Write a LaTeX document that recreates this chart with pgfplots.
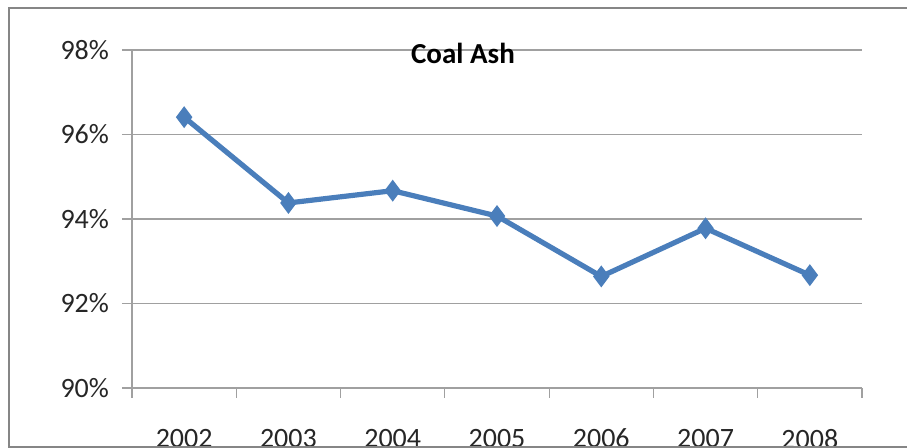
\documentclass[border=0pt]{standalone}
\usepackage{pgfplots}
\pgfplotsset{compat=1.18}
\usepackage{fontspec}
\setmainfont{Carlito}
\definecolor{lineblue}{HTML}{4A7EBB}
\definecolor{gridgray}{HTML}{A0A0A0}
\definecolor{framegray}{HTML}{868686}
\begin{document}
\begin{tikzpicture}
\path[use as bounding box] (-66pt,-30pt) rectangle (387.5pt,194pt);
\clip (-66pt,-30pt) rectangle (387.5pt,194pt);
\begin{axis}[
  at={(0pt,0pt)}, anchor=south west,
  scale only axis, width=365pt, height=169pt,
  xmin=0, xmax=7, ymin=90, ymax=98,
  axis x line*=bottom, axis y line*=left,
  axis line style={gridgray, line width=0.6pt},
  xtick={0.5,1.5,...,6.5},
  xticklabels={2002,2003,2004,2005,2006,2007,2008},
  minor xtick={0,1,...,7},
  ytick={90,92,...,98},
  yticklabel={\pgfmathprintnumber{\tick}\%},
  tick align=outside,
  major tick length=5pt, minor tick length=5pt,
  x tick style={draw=none},
  minor x tick style={draw=gridgray, line width=0.6pt},
  y tick style={draw=gridgray, line width=0.6pt},
  ymajorgrids, grid style={gridgray, line width=0.6pt},
  /pgf/number format/assume math mode=true,
  tick label style={font=\fontsize{14}{16}\selectfont, text=black!85},
  yticklabel style={xshift=-3pt},
  xticklabel style={yshift=-12pt},
  clip=false,
]
\addplot[lineblue, line width=2.6pt, mark=diamond*, mark size=5pt, mark options={fill=lineblue, line width=0.6pt}]
  coordinates {(0.5,96.41) (1.5,94.38) (2.5,94.67) (3.5,94.07) (4.5,92.64) (5.5,93.78) (6.5,92.67)};
\node[font=\bfseries\fontsize{14.5}{16}\selectfont] at (rel axis cs:0.4534,0.991) {Coal Ash};
\end{axis}
\draw[framegray, line width=1pt] (-61.5pt,-29.5pt) rectangle (420pt,190pt);
\end{tikzpicture}
\end{document}
